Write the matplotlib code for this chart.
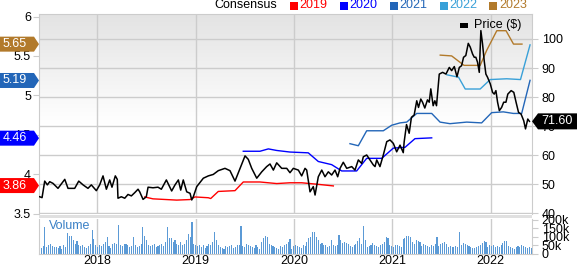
import numpy as np
import matplotlib
matplotlib.use("Agg")
import matplotlib.pyplot as plt
from matplotlib.patches import Polygon, Rectangle

plt.rcParams['font.family'] = ['Liberation Sans', 'DejaVu Sans']

# ---------------- data ----------------
price_t = [2017.414, 2017.438, 2017.465, 2017.492, 2017.516, 2017.550, 2017.600, 2017.669, 2017.702,
           2017.770, 2017.811, 2017.855, 2017.905, 2017.939, 2017.990, 2018.024, 2018.058, 2018.092,
           2018.126, 2018.149, 2018.183, 2018.203, 2018.210, 2018.244, 2018.279, 2018.312, 2018.346,
           2018.380, 2018.414, 2018.431, 2018.465, 2018.498, 2018.516, 2018.566, 2018.617, 2018.651,
           2018.702, 2018.756, 2018.790, 2018.824, 2018.848, 2018.874, 2018.909, 2018.943, 2018.960,
           2018.976, 2019.011, 2019.078, 2019.129, 2019.179, 2019.230, 2019.298, 2019.349, 2019.400,
           2019.451, 2019.502, 2019.535, 2019.570, 2019.621, 2019.672, 2019.722, 2019.756, 2019.790,
           2019.824, 2019.875, 2019.926, 2019.959, 2019.993, 2020.044, 2020.078, 2020.112, 2020.129,
           2020.163, 2020.196, 2020.214, 2020.247, 2020.282, 2020.315, 2020.349, 2020.383, 2020.417,
           2020.444, 2020.468, 2020.501, 2020.536, 2020.587, 2020.620, 2020.654, 2020.688, 2020.705,
           2020.739, 2020.773, 2020.806, 2020.824, 2020.841, 2020.874, 2020.908, 2020.943, 2020.976,
           2021.010, 2021.044, 2021.078, 2021.111, 2021.120, 2021.144, 2021.171, 2021.194, 2021.222,
           2021.248, 2021.266, 2021.289, 2021.307, 2021.330, 2021.357, 2021.375, 2021.391, 2021.415,
           2021.432, 2021.449, 2021.477, 2021.511, 2021.545, 2021.579, 2021.603, 2021.630, 2021.657,
           2021.681, 2021.704, 2021.724, 2021.747, 2021.772, 2021.792, 2021.816, 2021.833, 2021.849,
           2021.866, 2021.884, 2021.900, 2021.917, 2021.934, 2021.951, 2021.968, 2021.996, 2022.019,
           2022.036, 2022.053, 2022.070, 2022.088, 2022.111, 2022.132, 2022.155, 2022.174, 2022.208,
           2022.235, 2022.258, 2022.283, 2022.309, 2022.336, 2022.354, 2022.377, 2022.394]
price_v = [45.6, 45.3, 51.0, 49.7, 50.8, 50.2, 48.5, 51.6, 48.5,
           48.5, 51.0, 49.7, 48.5, 49.7, 47.7, 49.7, 52.8, 48.2,
           51.4, 48.9, 52.8, 51.6, 45.1, 45.6, 45.1, 46.4, 45.9,
           47.0, 48.2, 47.3, 44.7, 45.6, 48.9, 48.7, 48.9, 48.2,
           51.4, 47.6, 49.7, 51.4, 47.9, 51.4, 47.3, 46.8, 44.5,
           45.6, 49.1, 52.0, 52.8, 53.3, 54.6, 55.4, 54.6, 51.0,
           55.4, 59.7, 58.5, 55.4, 52.0, 54.2, 56.0, 56.9, 54.8,
           57.3, 55.4, 55.4, 53.9, 55.4, 54.8, 52.8, 55.4, 54.8,
           47.3, 49.1, 46.2, 52.5, 54.8, 52.5, 54.2, 53.1, 54.8,
           52.5, 55.4, 57.5, 55.4, 56.0, 54.8, 58.3, 57.1, 59.4,
           60.0, 58.3, 56.6, 56.0, 58.3, 56.0, 60.0, 64.6, 65.2,
           64.0, 61.1, 63.4, 60.8, 64.5, 70.5, 67.5, 73.0, 73.8,
           78.7, 76.4, 79.3, 78.2, 76.2, 79.0, 78.2, 82.8, 77.0,
           78.7, 77.0, 87.9, 88.5, 87.9, 90.2, 89.1, 90.5, 87.0,
           90.2, 90.8, 93.7, 94.3, 98.5, 97.2, 94.8, 93.7, 93.7,
           92.0, 88.5, 102.9, 98.3, 92.5, 87.9, 86.8, 84.5, 81.6,
           81.0, 82.2, 78.2, 75.3, 76.4, 78.2, 78.2, 81.0, 82.2,
           81.6, 78.2, 74.7, 74.1, 71.8, 69.0, 72.4, 71.6]

cons2019_t = [2018.482, 2018.566, 2018.702, 2018.807, 2018.943, 2018.993, 2019.129, 2019.153, 2019.230,
              2019.400, 2019.484, 2019.654, 2019.824, 2019.959, 2020.078, 2020.247, 2020.400]
cons2019_v = [3.71, 3.686, 3.677, 3.67, 3.677, 3.71, 3.70, 3.69, 3.78,
              3.79, 3.90, 3.90, 3.88, 3.89, 3.89, 3.87, 3.85]
cons2020_t = [2019.484, 2019.654, 2019.739, 2019.824, 2019.959, 2020.145, 2020.247, 2020.383, 2020.485,
              2020.637, 2020.739, 2020.892, 2021.010, 2021.129, 2021.230, 2021.400]
cons2020_v = [4.29, 4.29, 4.32, 4.30, 4.28, 4.27, 4.16, 4.12, 4.04,
              4.04, 4.20, 4.20, 4.33, 4.34, 4.45, 4.46]
cons2021_t = [2020.569, 2020.654, 2020.739, 2020.908, 2020.993, 2021.078, 2021.146, 2021.248, 2021.400,
              2021.485, 2021.586, 2021.756, 2021.908, 2022.010, 2022.128, 2022.230, 2022.315, 2022.400]
cons2021_v = [4.386, 4.36, 4.55, 4.55, 4.62, 4.65, 4.66, 4.77, 4.77,
              4.66, 4.64, 4.66, 4.65, 4.78, 4.79, 4.77, 4.77, 5.19]
cons2022_t = [2021.556, 2021.673, 2021.741, 2021.893, 2021.995, 2022.163, 2022.303, 2022.400]
cons2022_v = [5.26, 5.23, 5.08, 5.08, 5.20, 5.21, 5.20, 5.64]
cons2023_t = [2021.487, 2021.603, 2021.729, 2021.893, 2021.959, 2022.062, 2022.156, 2022.232, 2022.318]
cons2023_v = [5.51, 5.50, 5.38, 5.38, 5.57, 5.82, 5.82, 5.65, 5.65]

volume_k = [30, 35, 45, 154, 40, 50, 60, 45, 40, 38, 35, 45, 30,
            50, 40, 122, 106, 106, 80, 60, 78, 50, 45, 55, 40, 35,
            45, 60, 141, 87, 55, 40, 50, 45, 60, 70, 100, 45, 35,
            60, 65, 60, 167, 55, 45, 60, 60, 50, 40, 45, 97, 50,
            40, 45, 60, 158, 106, 80, 50, 45, 55, 60, 40, 45, 50,
            60, 45, 70, 154, 90, 95, 70, 80, 60, 50, 70, 55, 60,
            80, 116, 100, 188, 60, 50, 45, 55, 40, 50, 35, 45, 60,
            50, 70, 125, 80, 50, 40, 35, 30, 45, 40, 45, 50, 35,
            40, 55, 50, 163, 45, 40, 60, 50, 45, 40, 35, 50, 40,
            30, 70, 90, 106, 100, 60, 50, 45, 40, 35, 30, 45, 40,
            55, 60, 70, 87, 30, 45, 50, 45, 40, 35, 50, 45, 70,
            90, 100, 125, 125, 100, 80, 60, 65, 55, 50, 40, 45, 80,
            50, 45, 50, 110, 80, 65, 70, 65, 60, 45, 40, 55, 60,
            75, 95, 60, 163, 80, 40, 45, 50, 65, 50, 45, 40, 55,
            60, 70, 97, 91, 50, 45, 40, 50, 55, 45, 40, 85, 95,
            106, 106, 100, 70, 60, 80, 75, 70, 45, 60, 50, 45, 40,
            55, 45, 60, 97, 45, 60, 65, 70, 60, 40, 45, 40, 40,
            45, 40, 129, 50, 65, 60, 50, 45, 40, 35, 35, 40, 45,
            50, 65, 78, 70, 40, 50, 45, 55, 40, 45, 40, 55, 65,
            75, 78, 45, 40, 35, 30, 40, 45, 40, 50, 45, 40, 35,
            40, 35]
volume_start = 2017.41

year_ticks = [2018, 2019, 2020, 2021, 2022]
eps_ticks = [3.5, 4, 4.5, 5, 5.5, 6]
eps_tick_labels = ['3.5', '4', '4.5', '5', '5.5', '6']
price_ticks = [40, 50, 60, 70, 80, 90, 100]
vol_ticks = [0, 50, 100, 150, 200]
vol_tick_labels = ['0', '50k', '100k', '150k', '200k']
legend_years = ['2019', '2020', '2021', '2022', '2023']
legend_colors = ['#ff0000', '#0000ff', '#2366b8', '#38a0d8', '#b27a2b']
left_labels = [('5.65', 5.65, '#b27a2b'), ('5.19', 5.19, '#2366b8'),
               ('4.46', 4.46, '#0000ff'), ('3.86', 3.86, '#ff0000')]
last_price = 71.60

# ---------------- layout ----------------
W, H = 577, 265
fig = plt.figure(figsize=(W / 100, H / 100), dpi=100)
fig.patch.set_facecolor('white')

def fx(x):
    return x / W

def fy(y):
    return 1 - y / H

L, R = 39.3, 532.0
T, B = 14.0, 213.5
VT, VB = 218.5, 254.0
XMIN, XMAX = 2017.41, 2022.42
PMIN, PMAX = 39.83, 108.62
grid_c = '#cccccc'
FS = 9

ax = fig.add_axes([fx(L), fy(B), fx(R) - fx(L), fy(T) - fy(B)])
grad = np.linspace(0, 1, 256).reshape(-1, 1)
grad = np.clip(grad / 0.55, 0, 1)
ax.imshow(grad, cmap=matplotlib.colors.LinearSegmentedColormap.from_list('g', ['#e3e3e3', '#ffffff']),
          extent=[0, 1, 0, 1], origin='upper', transform=ax.transAxes, aspect='auto', zorder=0)
ax.set_xlim(XMIN, XMAX)
ax.set_ylim(PMIN, PMAX)
for p in price_ticks:
    ax.axhline(p, color=grid_c, lw=1, zorder=1)
for yv in year_ticks:
    ax.axvline(yv, color=grid_c, lw=1, zorder=1)
ax.set_xticks([])
for s in ['left', 'top', 'right']:
    ax.spines[s].set_color(grid_c)
ax.spines['bottom'].set_visible(False)

# EPS axis (left)
axe = ax.twinx()
# price line axis
axp = ax.twinx()

axe.set_xlim(XMIN, XMAX)
axe.set_ylim(3.506, 6.032)
for s in axe.spines.values():
    s.set_visible(False)
axe.plot(cons2019_t, cons2019_v, color=legend_colors[0], lw=1)
axe.plot(cons2020_t, cons2020_v, color=legend_colors[1], lw=1)
axe.plot(cons2021_t, cons2021_v, color=legend_colors[2], lw=1)
axe.plot(cons2022_t, cons2022_v, color=legend_colors[3], lw=1)
axe.plot(cons2023_t, cons2023_v, color=legend_colors[4], lw=1)
axe.set_xlim(XMIN, XMAX)
axe.set_ylim(3.506, 6.032)

axp.plot(price_t, price_v, color='black', lw=1.1)
axp.set_xlim(XMIN, XMAX)
axp.set_ylim(PMIN, PMAX)
for s in axp.spines.values():
    s.set_visible(False)

# tick placement (after twinning)
ax.yaxis.tick_right()
ax.set_yticks(price_ticks)
ax.set_yticklabels([str(p) for p in price_ticks], fontsize=FS)
ax.tick_params(axis='y', length=4, color=grid_c, pad=3, labelcolor='black')

axe.yaxis.tick_left()
axe.set_yticks(eps_ticks)
axe.set_yticklabels(eps_tick_labels, fontsize=FS)
axe.tick_params(axis='y', length=4, color=grid_c, pad=2)

axp.set_yticks([])
axp.tick_params(left=False, right=False, labelleft=False, labelright=False)

# separator band
fig.patches.append(Rectangle((fx(L), fy(218.3)), fx(R) - fx(L), (218.3 - 215.0) / H,
                             transform=fig.transFigure, facecolor='#e0e0e0', edgecolor='none'))

# volume axis
axv = fig.add_axes([fx(L), fy(VB), fx(R) - fx(L), fy(VT) - fy(VB)])
axv.set_xlim(XMIN, XMAX)
axv.set_ylim(0, 206)
for yv in year_ticks:
    axv.axvline(yv, color=grid_c, lw=1, zorder=0)
vt = volume_start + np.arange(len(volume_k)) / 52.18
axv.bar(vt, volume_k, width=0.011, color='#5b9ad6', edgecolor='none', zorder=2)
axv.yaxis.tick_right()
axv.set_yticks(vol_ticks)
axv.set_yticklabels(vol_tick_labels, fontsize=FS)
axv.tick_params(axis='y', length=4, color=grid_c, pad=3)
axv.set_xticks(year_ticks)
axv.set_xticklabels([str(y) for y in year_ticks], fontsize=FS)
axv.tick_params(axis='x', length=0, pad=0.5)
for s in ['left', 'right']:
    axv.spines[s].set_color(grid_c)
axv.spines['top'].set_visible(False)
axv.spines['bottom'].set_color(grid_c)
axv.patch.set_facecolor('white')
axv.text(0.02, 0.78, 'Volume', transform=axv.transAxes, fontsize=FS, color='#3a80c6', va='center')

# top legend
fig.text(fx(277), fy(5.5), 'Consensus', fontsize=FS, ha='right', va='center')
lx = [289.5, 339.5, 389.5, 439.5, 489.5]
for x0, yr, c in zip(lx, legend_years, legend_colors):
    fig.patches.append(Rectangle((fx(x0), fy(9.5)), 8 / W, 8 / H, transform=fig.transFigure,
                                 facecolor=c, edgecolor='none'))
    fig.text(fx(x0 + 10), fy(5.5), yr, fontsize=FS, color=c, va='center', ha='left')

# price legend inside
fig.patches.append(Rectangle((fx(460), fy(27.5)), 8 / W, 5 / H, transform=fig.transFigure,
                             facecolor='black', edgecolor='none'))
fig.text(fx(474), fy(25), 'Price ($)', fontsize=FS, va='center', ha='left')

# left value labels (arrow boxes)
def eps_to_px(v):
    return 16.5 + (6 - v) * 79

for txt, v, c in left_labels:
    yc = eps_to_px(v)
    h = 7.5
    pts = [(0, yc - h), (34, yc - h), (39, yc), (34, yc + h), (0, yc + h)]
    fig.patches.append(Polygon([(fx(a), fy(b)) for a, b in pts], closed=True,
                               transform=fig.transFigure, facecolor=c, edgecolor='none', zorder=5))
    fig.text(fx(3), fy(yc), txt, fontsize=FS, color='white', va='center', ha='left', zorder=6)

# right last price label
yc = 213 - (last_price - 40) * 2.9
h = 8
pts = [(532, yc), (538, yc - h), (577, yc - h), (577, yc + h), (538, yc + h)]
fig.patches.append(Polygon([(fx(a), fy(b)) for a, b in pts], closed=True,
                           transform=fig.transFigure, facecolor='black', edgecolor='none', zorder=5))
fig.text(fx(541), fy(yc), f'{last_price:.2f}', fontsize=FS, color='white', va='center', ha='left', zorder=6)

fig.savefig('out.png', dpi=100)
